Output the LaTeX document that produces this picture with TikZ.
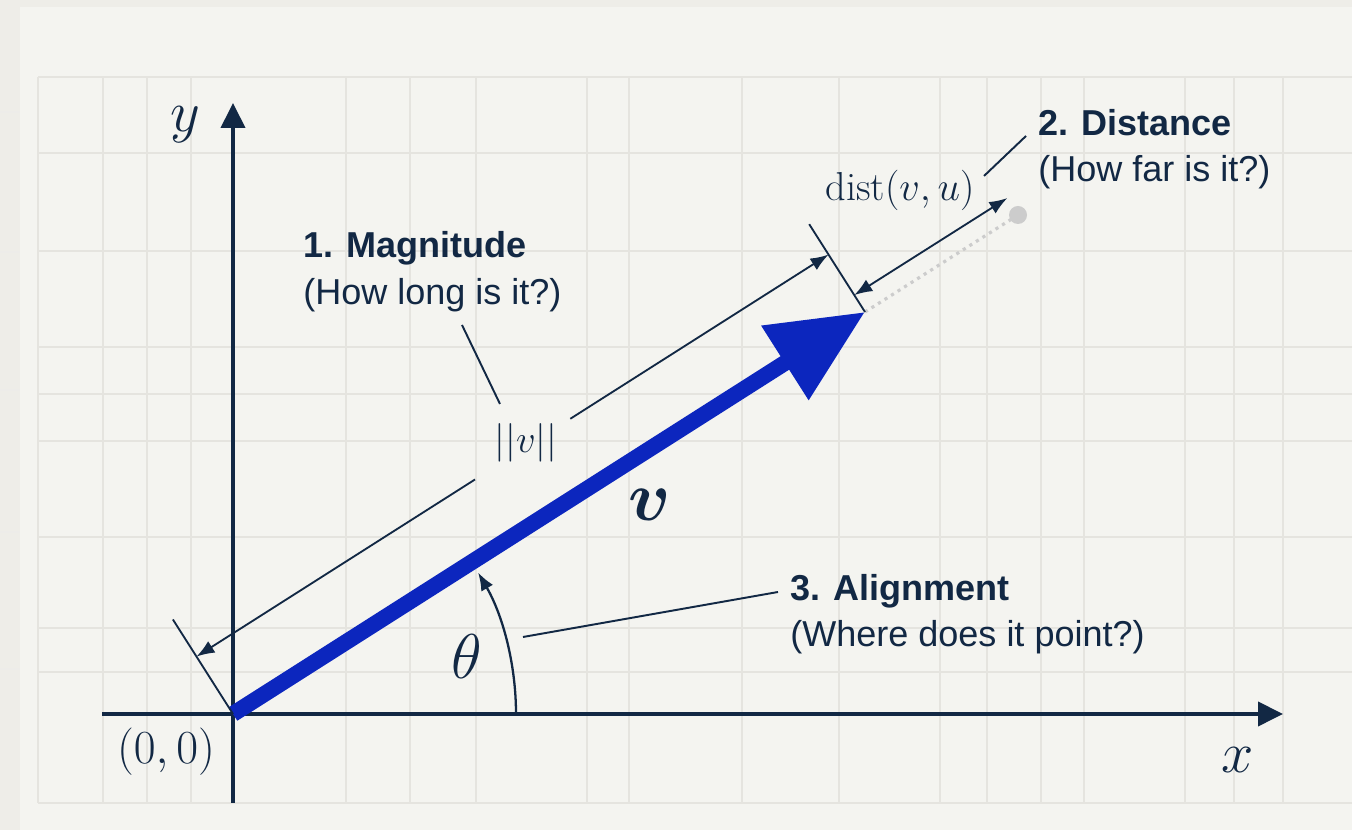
\RequirePackage{fix-cm}
\documentclass[tikz,border=0pt]{standalone}
\usepackage{amsmath,bm}
\usepackage{fontspec}
\newfontfamily\notefont{Liberation Sans}
\usetikzlibrary{arrows.meta}
\definecolor{navy}{RGB}{18,40,68}
\definecolor{vecblue}{RGB}{12,38,190}
\definecolor{gridgrey}{RGB}{229,228,223}
\definecolor{paper}{RGB}{238,237,232}
\definecolor{panel}{RGB}{244,244,240}

\begin{document}
\begin{tikzpicture}[x=0.02cm,y=0.02cm,
  note/.style={anchor=base west,inner sep=0pt,text=navy,font=\notefont\fontsize{20.5}{24}\selectfont},
  mathlbl/.style={inner sep=0pt,text=navy},
  dimline/.style={navy,line width=1.05pt},
  dimtip/.tip={Latex[length=0.36cm,width=0.27cm]},
  leader/.style={navy,line width=1.1pt}]
\useasboundingbox (0,0) rectangle (1352,830);
\fill[paper] (0,0) rectangle (1352,830);
\foreach \yy in {718,578,440,298,161}
  \draw[gridgrey!70,line width=0.6pt] (0,\yy) -- (20,\yy);
\fill[panel] (20,0) rectangle (1352,823);
% grid
\foreach \xx in {38,103,147,191,346,410,476,587,629,742,839,940,987,1041,1084,1185,1234,1283}
  \draw[gridgrey,line width=0.8pt] (\xx,27) -- (\xx,753);
\foreach \yy in {27,158,202,293,389,436,483,579,677,753}
  \draw[gridgrey,line width=0.8pt] (38,\yy) -- (1352,\yy);

% axes
\coordinate (O) at (233,116);
\coordinate (xstart) at (102,116);
\coordinate (xend) at (1283,116);
\coordinate (ystart) at (233,27);
\coordinate (yend) at (233,727);
\draw[navy,line width=2.2pt,-{Triangle[length=0.5cm,width=0.48cm]}] (xstart) -- (xend);
\draw[navy,line width=2.2pt,-{Triangle[length=0.5cm,width=0.48cm]}] (ystart) -- (yend);
\node[mathlbl,font=\fontsize{33}{40}\selectfont] (ylab) at (185,705) {$y$};
\node[mathlbl,font=\fontsize{33}{40}\selectfont] (xlab) at (1238,70) {$x$};
\node[mathlbl,font=\fontsize{27}{32}\selectfont] (orig) at (166,78) {$(0,0)$};

% dotted continuation to u
\coordinate (T) at (865,518);
\coordinate (U) at (1018,615);
\draw[black!20,line width=1.8pt,dash pattern=on 1.8pt off 2.6pt] (T) -- (U);
\fill[black!20] (U) circle (0.18cm);

% vector v
\draw[vecblue,line width=0.32cm,-{Triangle[length=1.9cm,width=1.68cm]}] (O) -- (T);
\node[mathlbl,font=\fontsize{40}{48}\selectfont] (vlab) at (650,325) {$\bm{v}$};

% ticks
\coordinate (Otick) at (172.9,210.5);
\coordinate (Ttick) at (809.2,605.8);
\draw[dimline] (O) -- (Otick);
\draw[dimline] (T) -- (Ttick);

% magnitude
\coordinate (m1) at (196.5,173.4);
\coordinate (m2) at (828.5,575.4);
\coordinate (g1) at (475.0,350.5);
\coordinate (g2) at (570.3,411.2);
\draw[dimline,dimtip-] (m1) -- (g1);
\draw[dimline,-dimtip] (g2) -- (m2);
\node[mathlbl,font=\fontsize{22}{26}\selectfont] (norm) at (526,387) {$||v||$};

% distance
\coordinate (d1) at (854.3,534.9);
\coordinate (d2) at (1007.3,631.9);
\draw[dimline,dimtip-dimtip] (d1) -- (d2);
\node[mathlbl,font=\fontsize{23}{28}\selectfont] (distlbl) at (900,640) {$\mathrm{dist}(v,u)$};

% angle
\coordinate (arcstart) at (516,116);
\draw[navy,line width=1.3pt,-dimtip] (arcstart) arc[start angle=0,end angle=30,radius=5.66cm];
\node[mathlbl,font=\fontsize{36}{42}\selectfont] (theta) at (467,173) {$\theta$};

% notes
\node[note] (magtitle) at (303,572) {\bfseries 1. Magnitude};
\node[note] (magsub) at (303,525) {(How long is it?)};
\node[note] (disttitle) at (1038,694) {\bfseries 2. Distance};
\node[note] (distsub) at (1038,648) {(How far is it?)};
\node[note] (aligntitle) at (790,229) {\bfseries 3. Alignment};
\node[note] (alignsub) at (790,183) {(Where does it point?)};

% leaders
\coordinate (magfoot) at (462,505);
\coordinate (normtop) at (500,426);
\draw[leader] (magfoot) -- (normtop);
\coordinate (distfoot) at (984,654);
\coordinate (disthead) at (1026,694);
\draw[leader] (distfoot) -- (disthead);
\coordinate (thetaside) at (523,193);
\coordinate (alignfoot) at (778,238);
\draw[leader] (thetaside) -- (alignfoot);
\end{tikzpicture}
\end{document}
